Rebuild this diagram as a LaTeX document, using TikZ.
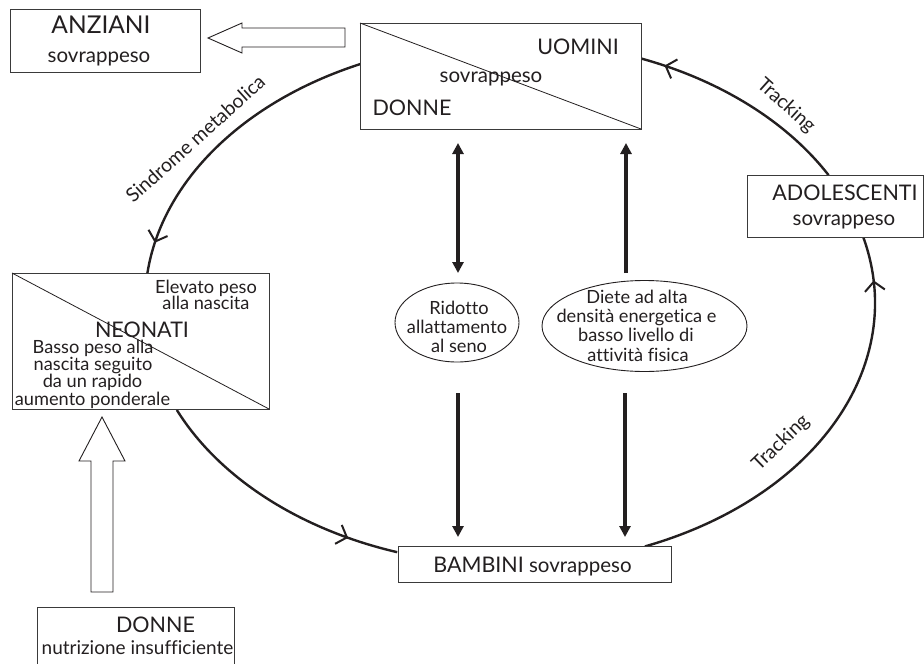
\documentclass[tikz,border=0pt]{standalone}
\usepackage{fontspec}
\setmainfont{Lato}[Ligatures={NoCommon}]
\usetikzlibrary{arrows.meta,shapes.geometric,decorations.markings}
\definecolor{ink}{HTML}{231F20}
\definecolor{boxln}{HTML}{3A3A3A}
\begin{document}
\begin{tikzpicture}[x=1pt,y=1pt,
  box/.style={draw=boxln, line width=0.9pt, fill=white, inner sep=0pt, outer sep=0pt},
  bigtxt/.style={font=\fontsize{21.5}{26}\selectfont, text=ink, inner sep=0pt, anchor=base},
  lowtxt/.style={font=\fontsize{20.5}{26}\selectfont, text=ink, inner sep=0pt, anchor=base},
  smalltxt/.style={font=\fontsize{18.2}{20}\selectfont, text=ink, inner sep=0pt, anchor=base},
  lbl/.style={font=\fontsize{19.5}{24}\selectfont, text=ink, inner sep=0pt},
  cyc/.style={line width=2.4pt, draw=ink},
  cycarrow/.style={postaction={decorate}, decoration={markings, mark=at position #1 with {\arrow{Straight Barb[length=9pt,width=20pt,line width=2pt]}}}},
  thickarr/.style={line width=4pt, draw=ink},
  hollow/.style={draw=ink, line width=0.9pt, fill=white},
  ell/.style={ellipse, draw=ink, line width=0.9pt, inner sep=0pt, fill=white},
  diag/.style={draw=ink, line width=0.8pt},
]
\useasboundingbox (0,0) rectangle (924,-664);

% ---- cycle (elliptical arcs) ----
\coordinate (C) at (510,-303);
\coordinate (a1s) at ([shift={(C)}]114:365pt and 262pt);
\coordinate (a2s) at ([shift={(C)}]204.1:365pt and 262pt);
\coordinate (a3s) at ([shift={(C)}]291.7:365pt and 262pt);
\coordinate (a4s) at ([shift={(C)}]29.2:365pt and 262pt);
\draw[cyc, cycarrow=0.9] (a1s) arc[start angle=114, end angle=173.5, x radius=365pt, y radius=262pt] coordinate (a1e);
\draw[cyc, cycarrow=0.81] (a2s) arc[start angle=204.1, end angle=252, x radius=365pt, y radius=262pt] coordinate (a2e);
\draw[cyc, cycarrow=0.895] (a3s) arc[start angle=291.7, end angle=374.6, x radius=365pt, y radius=262pt] coordinate (a3e);
\draw[cyc, cycarrow=0.89] (a4s) arc[start angle=29.2, end angle=69, x radius=365pt, y radius=262pt] coordinate (a4e);

% ---- boxes ----
\node[box, minimum width=190pt, minimum height=63pt] (anz) at (105,-40.5) {};
\node[box, minimum width=281pt, minimum height=106pt] (adult) at (500.5,-76) {};
\draw[diag] (adult.north west) -- (adult.south east);
\node[box, minimum width=176pt, minimum height=62pt] (ado) at (835,-206) {};
\node[box, minimum width=257pt, minimum height=136pt] (neo) at (140.5,-341) {};
\draw[diag] (neo.north west) -- (neo.south east);
\node[box, minimum width=273pt, minimum height=36pt] (bam) at (534.5,-564) {};
\node[box, minimum width=197pt, minimum height=70pt] (donb) at (135.5,-642) {};

% ---- ellipses ----
\node[ell, minimum width=124pt, minimum height=79pt] (ell1) at (457,-322.5) {};
\node[ell, minimum width=205pt, minimum height=91pt] (ell2) at (644.5,-326) {};

% ---- hollow arrows ----
\coordinate (hl1) at (345,-37.5);
\coordinate (hl2) at (208,-38);
\draw[hollow] (345,-28) -- (242,-28) -- (242,-23) -- (hl2) -- (242,-53) -- (242,-47) -- (345,-47) -- cycle;
\coordinate (hu1) at (102,-592);
\coordinate (hu2) at (102,-417);
\draw[hollow] (91,-592) -- (91,-461) -- (79,-461) -- (hu2) -- (125,-461) -- (113,-461) -- (113,-592) -- cycle;

% ---- thick vertical arrows ----
\coordinate (ua1) at (458,-143);
\coordinate (ua2) at (458,-273);
\coordinate (ub1) at (626,-273);
\coordinate (ub2) at (626,-143);
\coordinate (la1) at (458,-393);
\coordinate (la2) at (458,-537);
\coordinate (lb1) at (625,-393);
\coordinate (lb2) at (625,-537);
\draw[thickarr, {Triangle[length=11pt,width=11pt]}-{Triangle[length=11pt,width=11pt]}] (ua1) -- (ua2);
\draw[thickarr, -{Triangle[length=11pt,width=11pt]}] (ub1) -- (ub2);
\draw[thickarr, -{Triangle[length=11pt,width=11pt]}] (la1) -- (la2);
\draw[thickarr, -{Triangle[length=11pt,width=11pt]}] (lb1) -- (lb2);

% ---- texts ----
\node[bigtxt, font=\fontsize{24.5}{26}\selectfont] (anzT) at (101,-33) {ANZIANI};
\node[lowtxt] (anzS) at (99,-62) {sovrappeso};
\node[bigtxt] (uomT) at (578,-54) {UOMINI};
\node[lowtxt] (adS) at (491,-82) {sovrappeso};
\node[bigtxt] (donT) at (412,-115) {DONNE};
\node[bigtxt] (adoT) at (845,-200) {ADOLESCENTI};
\node[lowtxt] (adoS) at (844,-225) {sovrappeso};
\node[smalltxt] (neo1) at (206,-293) {Elevato peso};
\node[smalltxt] (neo2) at (206,-309) {alla nascita};
\node[bigtxt] (neoT) at (142,-337) {NEONATI};
\node[smalltxt] (neo3) at (93,-353) {Basso peso alla};
\node[smalltxt] (neo4) at (93,-370) {nascita seguito};
\node[smalltxt] (neo5) at (92.5,-387.5) {da un rapido};
\node[smalltxt] (neo6) at (92.5,-405) {aumento ponderale};
\node[smalltxt] (e11) at (459,-314) {Ridotto};
\node[smalltxt] (e12) at (457,-333) {allattamento};
\node[smalltxt] (e13) at (459,-352.5) {al seno};
\node[smalltxt] (e21) at (637,-303.5) {Diete ad alta};
\node[smalltxt] (e22) at (636.5,-322.5) {densità energetica e};
\node[smalltxt] (e23) at (636,-341.5) {basso livello di};
\node[smalltxt] (e24) at (638,-361) {attività fisica};
\node[lowtxt] (bamT) at (532.5,-572) {{\fontsize{21.5}{26}\selectfont BAMBINI} sovrappeso};
\node[bigtxt] (donbT) at (155.5,-632) {DONNE};
\node[lowtxt, font=\fontsize{19}{26}\selectfont] (donbS) at (137.5,-654) {nutrizione insufficiente};

% ---- arc labels ----
\node[lbl, rotate=42, anchor=base] (lsm) at (200,-144) {Sindrome metabolica};
\node[lbl, rotate=-42] (ltr1) at (786,-106) {Tracking};
\node[lbl, rotate=44] (ltr2) at (781,-443) {Tracking};
\end{tikzpicture}
\end{document}
